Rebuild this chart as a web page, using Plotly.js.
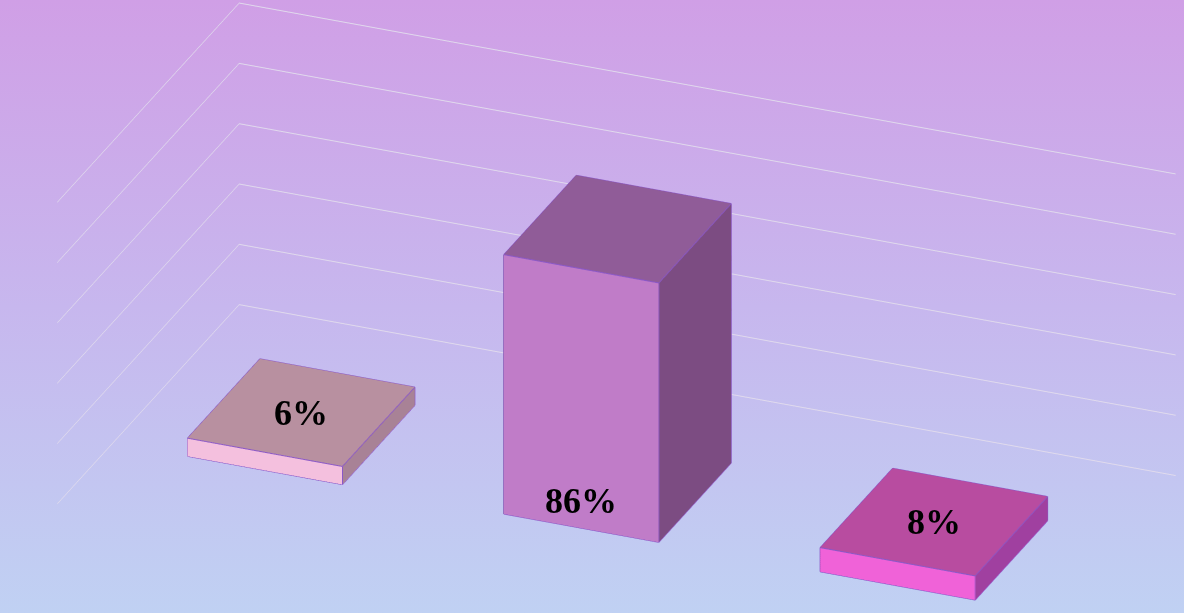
<!DOCTYPE html>
<html><head><meta charset="utf-8">
<script src="https://cdn.plot.ly/plotly-3.0.1.min.js"></script>
<style>
html,body{margin:0;padding:0;overflow:hidden;}
#chart{width:1184px;height:613px;background:linear-gradient(to bottom,#d09fe6 0%,#c7b7ee 50%,#c0d1f3 100%);}
</style></head><body><div id="chart"></div>
<script>
const categories = ['Option A', 'Option B', 'Option C'];
const values = [6, 86, 8];
const valueLabels = ['6%', '86%', '8%'];
const topColors = ['#b890a0', '#905c98', '#b84ca0'];
const frontColors = ['#f4c0de', '#c07cc8', '#f062d8'];
const sideColors = ['#a88296', '#7c4c82', '#a040a0'];
const zTicks = [0, 20, 40, 60, 80, 100];

const barW = 0.49, barD = 1.0;
const X = [], Y = [], Z = [], I = [], J = [], K = [], FC = [];
const ex = [], ey = [], ez = [];
values.forEach((v, idx) => {
  const x0 = idx - barW / 2, x1 = idx + barW / 2;
  const y0 = -barD / 2, y1 = barD / 2;
  const b = X.length;
  const pts = [[x0,y0,0],[x1,y0,0],[x1,y1,0],[x0,y1,0],[x0,y0,v],[x1,y0,v],[x1,y1,v],[x0,y1,v]];
  pts.forEach(p => { X.push(p[0]); Y.push(p[1]); Z.push(p[2]); });
  const faces = [
    [[0,1,2],[0,2,3]], // bottom
    [[4,5,6],[4,6,7]], // top
    [[0,1,5],[0,5,4]], // front
    [[3,2,6],[3,6,7]], // back
    [[0,3,7],[0,7,4]], // left
    [[1,2,6],[1,6,5]]  // right
  ];
  const cols = [frontColors[idx], topColors[idx], frontColors[idx], sideColors[idx], sideColors[idx], sideColors[idx]];
  faces.forEach((f, fi) => f.forEach(t => { I.push(b + t[0]); J.push(b + t[1]); K.push(b + t[2]); FC.push(cols[fi]); }));
  const edges = [[0,1],[1,2],[2,3],[3,0],[4,5],[5,6],[6,7],[7,4],[0,4],[1,5],[2,6],[3,7]];
  edges.forEach(e => {
    ex.push(pts[e[0]][0], pts[e[1]][0], null);
    ey.push(pts[e[0]][1], pts[e[1]][1], null);
    ez.push(pts[e[0]][2], pts[e[1]][2], null);
  });
});

const traces = [
  {type: 'mesh3d', x: X, y: Y, z: Z, i: I, j: J, k: K, facecolor: FC, flatshading: true,
   lighting: {ambient: 1, diffuse: 0, specular: 0, roughness: 1, fresnel: 0}, hoverinfo: 'skip', showscale: false},
  {type: 'scatter3d', mode: 'lines', x: ex, y: ey, z: ez, line: {color: '#8a58c8', width: 2}, hoverinfo: 'skip', showlegend: false}
];

const annotations = values.map((v, idx) => ({
  x: idx, y: idx === 1 ? -barD / 2 : 0, z: idx === 1 ? 9 : v,
  text: '<b>' + valueLabels[idx] + '</b>', showarrow: false,
  font: {family: 'Liberation Serif', size: 36, color: '#000000'}
}));

const hidden = {showgrid: false, showline: false, zeroline: false, showticklabels: false, ticks: '',
  title: {text: ''}, showbackground: false, showspikes: false};

const k = 2.5;
const dir = {x: 0.338, y: -0.828, z: 0.447};
const ctr = {x: -0.074, y: -0.030, z: 0.118};
const layout = {
  width: 1184, height: 613,
  margin: {l: 0, r: 0, t: 0, b: 0},
  paper_bgcolor: 'rgba(0,0,0,0)',
  showlegend: false,
  scene: {
    domain: {x: [0, 1], y: [0, 1]},
    bgcolor: 'rgba(0,0,0,0)',
    aspectmode: 'manual', aspectratio: {x: 3.3, y: 1.57, z: 1.1},
    xaxis: Object.assign({range: [-0.48, 2.48], type: 'linear'}, hidden),
    yaxis: Object.assign({range: [-1.27, 1.24]}, hidden),
    zaxis: Object.assign({}, hidden, {range: [0, 100], showgrid: true, tickvals: zTicks,
      gridcolor: 'rgba(214,208,224,0.95)', gridwidth: 2}),
    camera: {eye: {x: ctr.x + dir.x * k, y: ctr.y + dir.y * k, z: ctr.z + dir.z * k}, center: ctr,
      up: {x: 0, y: 0, z: 1}, projection: {type: 'orthographic'}},
    annotations: annotations,
    dragmode: false
  },
  hovermode: false
};

Plotly.newPlot('chart', traces, layout, {displayModeBar: false, scrollZoom: false});
</script></body></html>
